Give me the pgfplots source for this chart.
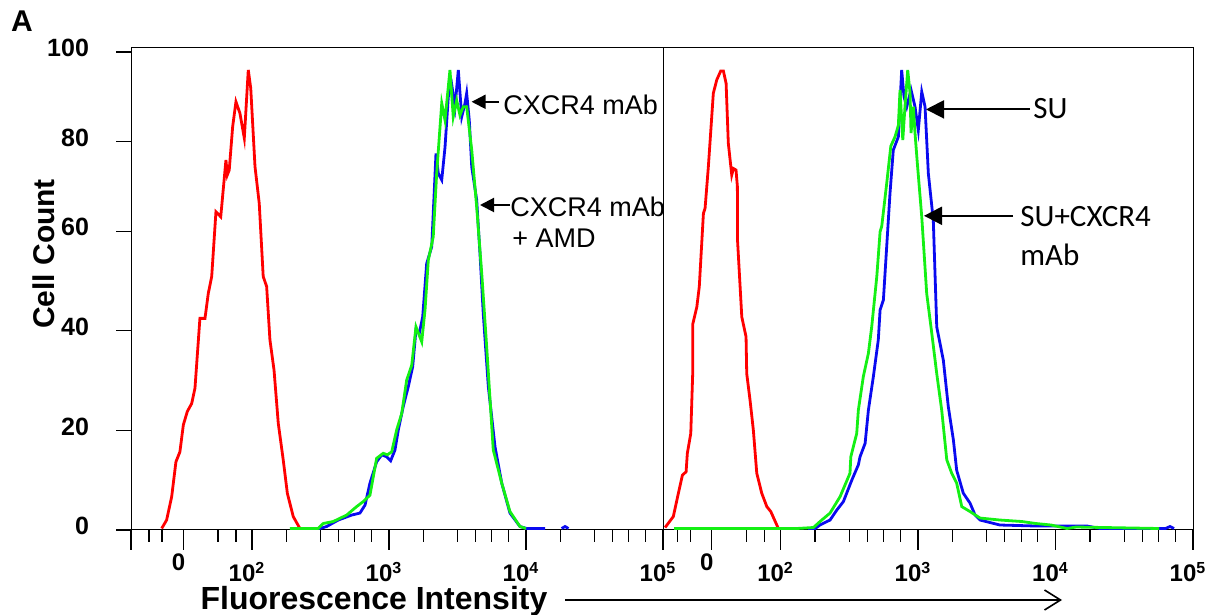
\documentclass[border=0pt]{standalone}
\usepackage{pgfplots}
\pgfplotsset{compat=1.18}
\usepackage{fontspec}
\setmainfont{Liberation Sans}
\newfontfamily\calib{Carlito}
\usetikzlibrary{arrows.meta}

\definecolor{fcred}{RGB}{255,0,0}
\definecolor{fcblue}{RGB}{10,10,240}
\definecolor{fcgreen}{RGB}{20,240,20}

% x is in decades (2 = 10^2 ...), the 0 of the biexponential scale sits near 1.5
\pgfplotsset{
  flow/.style={
    scale only axis, height=241pt, ymin=0, ymax=96.8, clip=false,
    axis line style={line width=0.5pt},
    tick align=outside, major tick length=10pt, minor tick length=6pt,
    xtick pos=bottom, ytick pos=left,
    every tick/.style={black, line width=0.6pt},
    minor xtick={1.248,1.343,1.752,1.883,
      2.25,2.5,2.63,2.75,2.87, 3.25,3.5,3.63,3.75,3.87, 4.25,4.5,4.63,4.75,4.87},
    xticklabel style={anchor=base, yshift=-16pt, xshift=-2.5pt, inner sep=1pt,
      font=\bfseries\fontsize{12}{13}\selectfont},
    ytick=\empty,
    every axis plot/.append style={line width=1.4pt, no marks},
  },
}

\begin{document}
\begin{tikzpicture}
\path[use as bounding box] (0,0) rectangle (602.5pt,307.5pt);

% left panel: CXCR4 mAb
\begin{axis}[flow, at={(65.5pt,42.5pt)}, anchor=south west, width=266pt,
  xmin=1.117, xmax=5,
  xtick={1.117,1.5,2,3,4,5},
  xticklabels={{},\raisebox{5.5pt}{0},10\textsuperscript{2},10\textsuperscript{3},10\textsuperscript{4},10\textsuperscript{5}},
  extra y ticks={0,20,40,60,78,96},
  extra y tick labels={0,20,40,60,80,100},
  extra y tick style={major tick length=7.5pt,
    yticklabel style={font=\bfseries\fontsize{12.5}{14}\selectfont, xshift=-10pt, yshift=2pt}},
]
\addplot[fcred] coordinates {(1.341,0.3)(1.377,2.0)(1.414,6.7)(1.445,13.7)(1.474,15.7)(1.499,21.1)(1.528,23.8)(1.560,25.4)(1.584,28.5)(1.620,42.5)(1.657,42.5)(1.681,47.5)(1.706,50.9)(1.737,63.9)(1.772,62.9)(1.810,74.3)(1.820,71.3)(1.834,72.3)(1.859,81.0)(1.883,86.0)(1.912,83.7)(1.944,78.7)(1.973,92.4)(1.991,88.7)(2.022,73.0)(2.053,65.6)(2.082,50.9)(2.107,48.9)(2.131,38.2)(2.161,32.1)(2.192,21.4)(2.228,14.1)(2.258,7.4)(2.301,2.7)(2.350,0.3)};
\addplot[fcblue] coordinates {(2.35,0.3)(2.496,0.3)(2.545,0.7)(2.630,2.0)(2.728,3.0)(2.788,3.4)(2.825,5.0)(2.861,9.4)(2.910,13.7)(2.947,15.1)(2.983,14.7)(3.012,13.9)(3.044,16.1)(3.068,20.1)(3.104,24.8)(3.141,28.8)(3.173,32.8)(3.197,40.2)(3.221,39.5)(3.246,42.8)(3.275,53.5)(3.312,56.9)(3.343,75.6)(3.360,71.6)(3.385,70.3)(3.409,76.9)(3.433,87.0)(3.458,89.4)(3.482,85.0)(3.506,92.4)(3.531,83.0)(3.555,85.7)(3.567,87.7)(3.586,82.3)(3.604,72.9)(3.640,66.3)(3.664,55.6)(3.688,43.5)(3.725,28.8)(3.774,16.7)(3.823,9.4)(3.883,3.4)(3.956,0.7)(4.005,0.3)(4.139,0.3)};
\addplot[fcblue] coordinates {(4.26,0.3)(4.285,0.7)(4.31,0.3)};
\addplot[fcgreen] coordinates {(2.277,0.3)(2.482,0.3)(2.520,1.3)(2.593,1.7)(2.691,3.0)(2.764,4.7)(2.812,5.7)(2.861,7.0)(2.910,14.4)(2.958,15.4)(2.988,15.1)(3.020,15.7)(3.056,20.1)(3.093,23.4)(3.129,30.1)(3.166,33.1)(3.197,40.8)(3.239,37.8)(3.263,44.2)(3.287,54.2)(3.323,58.9)(3.348,71.6)(3.385,85.7)(3.409,82.3)(3.445,92.4)(3.469,83.0)(3.494,86.3)(3.518,83.3)(3.542,85.0)(3.567,85.0)(3.604,76.3)(3.640,64.9)(3.677,51.5)(3.713,36.8)(3.761,16.1)(3.823,9.4)(3.883,3.7)(3.956,0.7)(4.0,0.3)};
\end{axis}

% right panel: SU
\begin{axis}[flow, at={(331.5pt,42.5pt)}, anchor=south west, width=265pt,
  xmin=1.145, xmax=5,
  xtick={1.145,1.5,2,3,4,5},
  xticklabels={{},\raisebox{5.5pt}{0},10\textsuperscript{2},10\textsuperscript{3},10\textsuperscript{4},10\textsuperscript{5}},
]
\addplot[fcred] coordinates {(1.160,0.5)(1.220,2.7)(1.257,7.4)(1.286,11.0)(1.313,11.7)(1.322,15.4)(1.347,19.4)(1.361,31.4)(1.362,41.4)(1.391,44.8)(1.409,48.9)(1.439,63.6)(1.451,64.6)(1.475,73.0)(1.511,87.7)(1.536,90.4)(1.565,92.2)(1.584,92.2)(1.604,89.7)(1.620,77.7)(1.645,71.3)(1.657,72.6)(1.676,72.3)(1.686,69.0)(1.687,58.2)(1.718,42.8)(1.749,38.8)(1.754,31.4)(1.778,26.1)(1.802,20.1)(1.827,11.4)(1.863,7.4)(1.900,4.7)(1.929,3.7)(1.984,0.3)};
\addplot[fcblue] coordinates {(2.20,0.3)(2.251,0.3)(2.287,1.0)(2.360,2.0)(2.409,4.0)(2.457,5.7)(2.518,10.0)(2.566,13.1)(2.578,14.7)(2.615,17.4)(2.639,24.1)(2.675,30.8)(2.711,38.2)(2.724,44.2)(2.748,46.2)(2.772,56.9)(2.796,67.6)(2.820,76.3)(2.857,79.0)(2.881,92.4)(2.898,87.0)(2.918,85.0)(2.949,88.4)(2.978,85.0)(3.002,80.3)(3.027,88.0)(3.051,85.0)(3.075,71.6)(3.111,62.2)(3.136,40.8)(3.184,34.1)(3.220,24.8)(3.257,18.1)(3.281,12.0)(3.329,7.4)(3.378,5.4)(3.415,3.0)(3.451,2.0)(3.596,1.0)(3.858,0.8)(4.229,0.8)(4.324,0.3)(4.760,0.3)(4.80,0.3)(4.833,0.7)(4.862,0.3)};
\addplot[fcgreen] coordinates {(1.225,0.3)(2.118,0.3)(2.239,0.5)(2.287,1.7)(2.360,3.4)(2.433,6.7)(2.505,11.4)(2.511,14.7)(2.554,19.4)(2.566,24.1)(2.602,30.8)(2.639,35.5)(2.663,40.8)(2.700,50.9)(2.724,59.9)(2.736,61.0)(2.772,69.6)(2.802,77.1)(2.833,79.0)(2.857,81.3)(2.869,88.4)(2.889,78.3)(2.905,85.0)(2.925,92.4)(2.942,87.7)(2.949,79.7)(2.966,85.0)(2.978,79.7)(2.995,73.6)(3.027,62.9)(3.063,47.5)(3.100,39.5)(3.136,31.4)(3.172,24.1)(3.209,14.1)(3.245,11.4)(3.281,9.4)(3.318,4.7)(3.378,3.7)(3.451,2.4)(3.596,2.0)(3.756,1.7)(3.858,1.3)(3.967,1.0)(4.084,0.3)(4.149,0.6)(4.753,0.3)};
\end{axis}

% labels and arrows
\node[font=\bfseries\fontsize{15}{17}\selectfont] at (11pt,297pt) {A};
\node[rotate=90, font=\bfseries\fontsize{15}{17}\selectfont] at (22pt,180.5pt) {Cell Count};
\node[font=\bfseries\fontsize{16}{18}\selectfont, inner sep=0pt] at (187pt,7pt) {Fluorescence Intensity};
\draw[line width=0.8pt, -{Straight Barb[length=8pt,width=10pt]}] (282.5pt,7.5pt) -- (531pt,7.5pt);

\begin{scope}[font=\fontsize{13.5}{15}\selectfont]
\draw[line width=1pt, -{Triangle[length=7pt,width=7pt]}] (249.5pt,256.6pt) -- (235.8pt,256.6pt);
\node[anchor=west, inner sep=0pt] at (251.5pt,255pt) {CXCR4 mAb};
\draw[line width=1pt, -{Triangle[length=7pt,width=7pt]}] (255pt,205pt) -- (240pt,205pt);
\node[anchor=west, inner sep=0pt] at (255pt,204pt) {CXCR4 mAb};
\node[anchor=west, inner sep=0pt] at (256pt,188.5pt) {+ AMD};
\end{scope}

\begin{scope}[font=\calib\fontsize{15.5}{17}\selectfont]
\draw[line width=1pt, -{Triangle[length=9pt,width=9pt]}] (515pt,252.8pt) -- (463pt,252.8pt);
\node[anchor=west, inner sep=0pt] at (516.5pt,253pt) {SU};
\draw[line width=1pt, -{Triangle[length=9pt,width=9pt]}] (506.5pt,199.6pt) -- (462pt,199.6pt);
\node[anchor=west, inner sep=0pt] at (510pt,199pt) {SU+CXCR4};
\node[anchor=west, inner sep=0pt] at (510pt,180pt) {mAb};
\end{scope}
\end{tikzpicture}
\end{document}
